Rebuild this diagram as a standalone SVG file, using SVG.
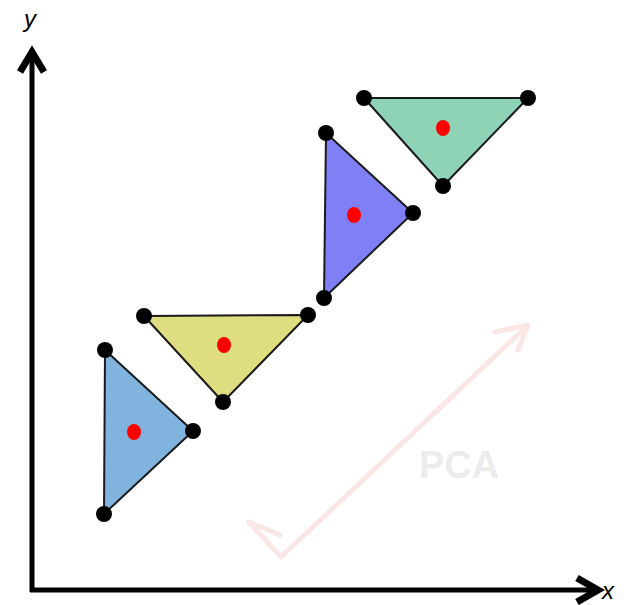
<svg xmlns="http://www.w3.org/2000/svg" width="624" height="605" viewBox="0 0 624 605">
<style>
.tri{stroke:#1a1a1a;stroke-width:2;stroke-linejoin:round}
.v{fill:#000}
.c{fill:#f00}
.axis{stroke:#000;stroke-width:5;fill:none}
.head{stroke:#000;stroke-width:7;fill:none;stroke-linecap:butt;stroke-linejoin:miter;stroke-miterlimit:10}
.lbl{font-family:"Liberation Sans",Arial,sans-serif;font-style:italic;font-size:24px;fill:#000}
.pca{stroke:#fbe6e6;stroke-width:5;fill:none;stroke-linecap:round;stroke-linejoin:round}
</style>
<rect width="624" height="605" fill="#fff"/>
<g id="pca">
<polyline class="pca" points="527,326 281,557 249,522"/>
<polyline class="pca" points="249,522 280,535"/>
<polyline class="pca" points="495,332 528,325 518,350"/>
<text x="459" y="478" text-anchor="middle" font-family="Liberation Sans,Arial,sans-serif" font-weight="bold" font-size="38" fill="#ececec">PCA</text>
</g>
<g id="connectors">
<line class="axis" x1="32" y1="592" x2="32" y2="52"/>
<line class="axis" x1="30" y1="590" x2="598" y2="590"/>
<polyline class="head" points="20,72 32,52 44,72"/>
<polyline class="head" points="577,578 598,590 577,602"/>
</g>
<text class="lbl" x="24" y="27">y</text>
<text class="lbl" x="602" y="599">x</text>
<g id="tri-blue">
<polygon class="tri" fill="#80b3de" points="105,350 193,431 104,514"/>
<circle class="v" cx="105" cy="350" r="8"/>
<circle class="v" cx="193" cy="431" r="8"/>
<circle class="v" cx="104" cy="514" r="8"/>
<ellipse class="c" cx="134" cy="432" rx="7" ry="8"/>
</g>
<g id="tri-yellow">
<polygon class="tri" fill="#dede80" points="144,316 308,315 223,402"/>
<circle class="v" cx="144" cy="316" r="8"/>
<circle class="v" cx="308" cy="315" r="8"/>
<circle class="v" cx="223" cy="402" r="8"/>
<ellipse class="c" cx="224" cy="345" rx="7" ry="8"/>
</g>
<g id="tri-purple">
<polygon class="tri" fill="#8080f6" points="326,133 413,213 324,298"/>
<circle class="v" cx="326" cy="133" r="8"/>
<circle class="v" cx="413" cy="213" r="8"/>
<circle class="v" cx="324" cy="298" r="8"/>
<ellipse class="c" cx="354" cy="215" rx="7" ry="8"/>
</g>
<g id="tri-green">
<polygon class="tri" fill="#8ed3b6" points="364,98 528,98 443,186"/>
<circle class="v" cx="364" cy="98" r="8"/>
<circle class="v" cx="528" cy="98" r="8"/>
<circle class="v" cx="443" cy="186" r="8"/>
<ellipse class="c" cx="443" cy="128" rx="7" ry="8"/>
</g>
</svg>
